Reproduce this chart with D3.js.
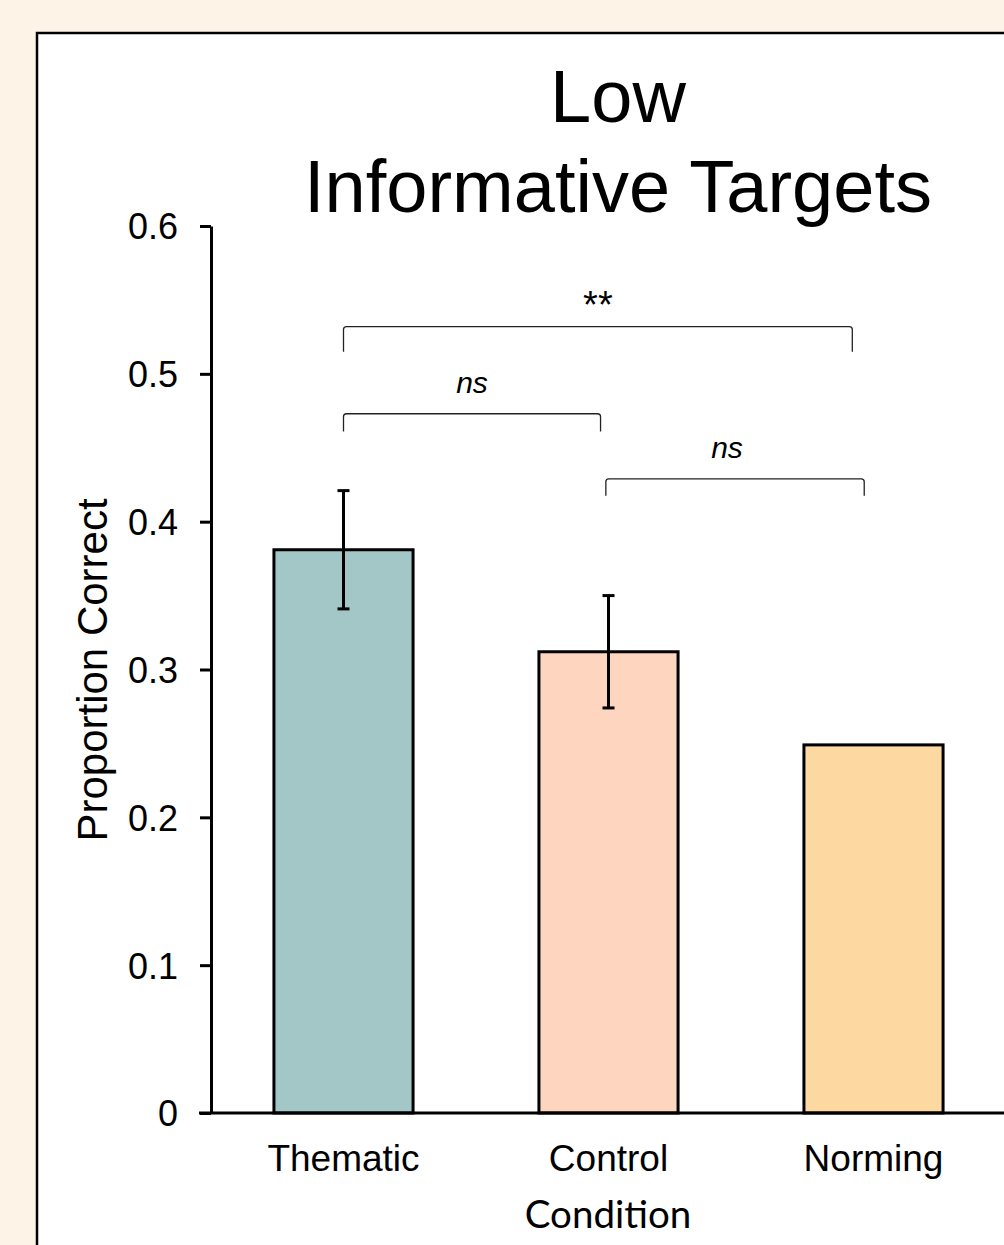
<!DOCTYPE html>
<html>
<head>
<meta charset="utf-8">
<script src="https://cdn.jsdelivr.net/npm/d3@7"></script>
<style>
  body { margin: 0; background: #FDF4E7; }
  svg { display: block; }
  text { font-family: Arial, "Liberation Sans", sans-serif; fill: #000; }
</style>
</head>
<body>
<div id="chart"></div>
<script>
const W = 1004;
const H = 1245;

// data
const categories = ["Thematic", "Control", "Norming"];
const means = [0.381, 0.312, 0.249];
const errors = [0.040, 0.038, null];
const barColors = ["#A3C7C6", "#FED5BE", "#FDD8A1"];
const yTicks = [0, 0.1, 0.2, 0.3, 0.4, 0.5, 0.6];

// significance brackets: from / to in category index units, top and tip in data units
const bracketFrom = [0, 0, 0.99];
const bracketTo = [1.92, 0.97, 1.965];
const bracketTop = [0.532, 0.473, 0.429];
const bracketTip = [0.515, 0.461, 0.4175];
const bracketLabels = ["**", "ns", "ns"];

const svg = d3.select("#chart")
  .append("svg")
  .attr("width", W)
  .attr("height", H);

// white panel with black frame, running off the right / bottom edge
svg.append("rect")
  .attr("x", 37)
  .attr("y", 33)
  .attr("width", W + 50)
  .attr("height", H + 50)
  .attr("fill", "#fff")
  .attr("stroke", "#000")
  .attr("stroke-width", 2.5);

// scales
const xScale = d3.scaleBand()
  .domain(categories)
  .range([211, 1006])
  .paddingInner(0.475)
  .paddingOuter(0.2375);

const yScale = d3.scaleLinear()
  .domain([0, 0.6])
  .range([1113, 226]);

// category index -> pixel centre, used for the brackets
const xIdx = d3.scaleLinear()
  .domain([0, categories.length - 1])
  .range([xScale(categories[0]) + xScale.bandwidth() / 2,
          xScale(categories[categories.length - 1]) + xScale.bandwidth() / 2]);

// title
const title = svg.append("text")
  .attr("text-anchor", "middle")
  .style("font-size", "74px");
title.append("tspan").attr("x", 618).attr("y", 122).text("Low");
title.append("tspan").attr("x", 618).attr("y", 212).text("Informative Targets");

// bars
svg.append("g")
  .selectAll("rect")
  .data(means)
  .join("rect")
  .attr("x", (d, i) => xScale(categories[i]))
  .attr("y", d => yScale(d))
  .attr("width", xScale.bandwidth())
  .attr("height", d => yScale(0) - yScale(d))
  .attr("fill", (d, i) => barColors[i])
  .attr("stroke", "#000")
  .attr("stroke-width", 3);

// error bars
const errG = svg.append("g")
  .attr("stroke", "#000")
  .attr("stroke-width", 3);

means.forEach((m, i) => {
  if (errors[i] == null) return;
  const cx = xScale(categories[i]) + xScale.bandwidth() / 2;
  const y1 = yScale(m + errors[i]);
  const y2 = yScale(m - errors[i]);
  errG.append("line").attr("x1", cx).attr("x2", cx).attr("y1", y1).attr("y2", y2);
  errG.append("line").attr("x1", cx - 6).attr("x2", cx + 6).attr("y1", y1).attr("y2", y1);
  errG.append("line").attr("x1", cx - 6).attr("x2", cx + 6).attr("y1", y2).attr("y2", y2);
});

// y axis
const yAxis = d3.axisLeft(yScale)
  .tickValues(yTicks)
  .tickFormat(d => d === 0 ? "0" : d.toFixed(1))
  .tickSize(11)
  .tickSizeOuter(0)
  .tickPadding(22);

const yAxisDrawn = svg.append("g")
  .attr("transform", "translate(211,0)")
  .call(yAxis);
yAxisDrawn.selectAll("line, path").attr("stroke", "#000").attr("stroke-width", 3);
yAxisDrawn.selectAll("text")
  .style("font-size", "36px")
  .style("font-family", "Arial, 'Liberation Sans', sans-serif")
  .attr("dy", "0.36em");

// x axis (baseline runs past the right edge)
const xAxis = d3.axisBottom(xScale)
  .tickSize(0)
  .tickSizeOuter(0)
  .tickPadding(32);

const xAxisDrawn = svg.append("g")
  .attr("transform", "translate(0,1113)")
  .call(xAxis);
xAxisDrawn.select(".domain").remove();
xAxisDrawn.append("line")
  .attr("x1", 199)
  .attr("x2", W + 10)
  .attr("stroke", "#000")
  .attr("stroke-width", 3);
xAxisDrawn.selectAll("text")
  .style("font-size", "37px")
  .style("font-family", "Arial, 'Liberation Sans', sans-serif");

// axis titles
svg.append("text")
  .attr("transform", "translate(107,670) rotate(-90)")
  .attr("text-anchor", "middle")
  .style("font-size", "42px")
  .text("Proportion Correct");

svg.append("text")
  .attr("x", 608)
  .attr("y", 1228)
  .attr("text-anchor", "middle")
  .style("font-family", "Lato, 'Open Sans', sans-serif")
  .style("font-size", "38.5px")
  .text("Condition");

// significance brackets
const brG = svg.append("g");
bracketLabels.forEach((lab, i) => {
  const x1 = xIdx(bracketFrom[i]);
  const x2 = xIdx(bracketTo[i]);
  const yt = yScale(bracketTop[i]);
  const yb = yScale(bracketTip[i]);
  brG.append("path")
    .attr("d", `M${x1},${yb} L${x1},${yt + 3} Q${x1},${yt} ${x1 + 3},${yt} L${x2 - 3},${yt} Q${x2},${yt} ${x2},${yt + 3} L${x2},${yb}`)
    .attr("fill", "none")
    .attr("stroke", "#222")
    .attr("stroke-width", 1.3);
  brG.append("text")
    .attr("x", i === 2 ? (x1 + x2) / 2 - 8 : (x1 + x2) / 2)
    .attr("y", i === 0 ? yt - 9 : yt - 21)
    .attr("text-anchor", "middle")
    .style("font-size", lab === "ns" ? "30px" : "38px")
    .style("font-style", lab === "ns" ? "italic" : "normal")
    .text(lab);
});
</script>
</body>
</html>
